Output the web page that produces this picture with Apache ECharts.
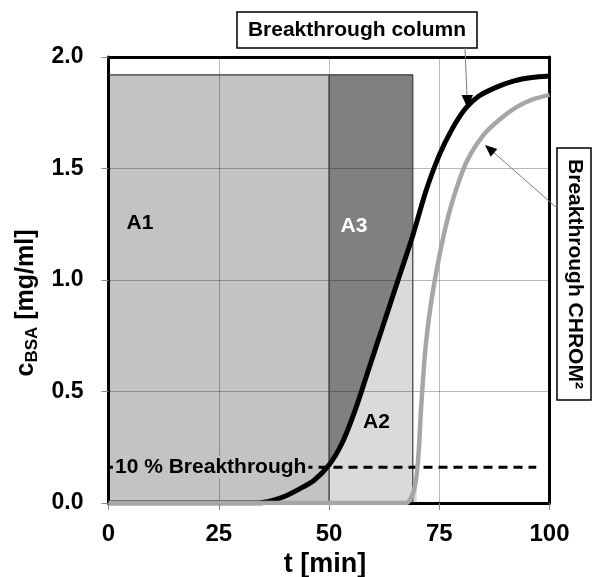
<!DOCTYPE html>
<html><head><meta charset="utf-8">
<script src="https://cdn.jsdelivr.net/npm/echarts@6/dist/echarts.min.js"></script>
<style>html,body{margin:0;padding:0;background:#fff}#c{width:595px;height:577px}</style>
</head><body><div id="c"></div>
<script>
// ---- data ----
const xTicks = [0, 25, 50, 75, 100];
const yTicks = [0.0, 0.5, 1.0, 1.5, 2.0];
const columnBreakthrough = [[0,0],[34,0],[37,0.01],[40,0.03],[43,0.06],[46.5,0.10],[50,0.17],[53,0.27],[56,0.42],[59,0.60],[62,0.78],[65.5,0.99],[69,1.20],[72,1.40],[75,1.56],[78,1.68],[81,1.77],[84,1.825],[88,1.865],[92,1.893],[96,1.908],[100,1.915]];
const chromBreakthrough = [[0,0],[67.5,0],[68.5,0.02],[69.3,0.06],[69.9,0.13],[70.4,0.25],[70.8,0.4],[71.3,0.55],[71.9,0.7],[72.8,0.85],[74,1.0],[76,1.2],[78.1,1.36],[81.2,1.53],[85,1.65],[88.7,1.72],[92.5,1.775],[96.2,1.81],[100,1.83]];
const loadLevel = 1.92;
const rangeA1 = [0, 50];
const rangeA3 = [50, 69];
const tenPercentLevel = 0.16;
const tenPercentRange = [0, 97];
const areaLabels = ['A1', 'A2', 'A3'];

const FONT = 'Liberation Sans, Arial, Helvetica, sans-serif';
const chart = echarts.init(document.getElementById('c'));

const a2Fill = columnBreakthrough.filter(p => p[0] >= rangeA3[0] && p[0] <= rangeA3[1]);
const a2Sliver = chromBreakthrough.filter(p => p[0] >= 67.5 && p[0] <= 69.9);
const SMOOTH = 0.25;

const baseAxis = {
  type: 'value', z: 3,
  axisLine: { show: true, onZero: false, lineStyle: { color: '#000', width: 3 } },
  axisTick: { show: true, length: 7, lineStyle: { color: '#8a8a8a', width: 1 } },
  splitLine: { show: true, lineStyle: { color: 'rgba(0,0,0,0.28)', width: 1 } },
  axisLabel: { fontSize: 23, fontWeight: 'bold', color: '#000', fontFamily: FONT }
};
const frameAxis = {
  type: 'value', z: 3,
  axisLine: { show: true, onZero: false, lineStyle: { color: '#000', width: 3 } },
  axisTick: { show: false }, axisLabel: { show: false }, splitLine: { show: false }
};

function fill(data, color, z) {
  return { type: 'line', data, symbol: 'none', silent: true, z,
    lineStyle: { width: 0 }, areaStyle: { color, opacity: 1 } };
}
function border(data, z) {
  return { type: 'line', data, symbol: 'none', silent: true, z,
    lineStyle: { color: '#3c3c3c', width: 1.2 } };
}

chart.setOption({
  animation: false,
  grid: { left: 108.5, right: 45.5, top: 57, bottom: 74, outerBoundsMode: 'none', containLabel: false },
  xAxis: [
    Object.assign({}, baseAxis, {
      min: xTicks[0], max: xTicks[xTicks.length - 1], interval: xTicks[1] - xTicks[0],
      axisLabel: Object.assign({}, baseAxis.axisLabel, { fontSize: 24, margin: 19 }),
      name: 't [min]', nameLocation: 'middle', nameGap: 44,
      nameTextStyle: { fontSize: 27, fontWeight: 'bold', color: '#000', fontFamily: FONT, padding: [0, 8, 0, 0] }
    }),
    Object.assign({}, frameAxis, { position: 'top', min: 0, max: 100 })
  ],
  yAxis: [
    Object.assign({}, baseAxis, {
      min: yTicks[0], max: yTicks[yTicks.length - 1], interval: yTicks[1] - yTicks[0],
      axisLabel: Object.assign({}, baseAxis.axisLabel, { margin: 25, formatter: v => v.toFixed(1) }),
      name: '{c|c}{s|BSA}{c| [mg/ml]}', nameLocation: 'middle', nameRotate: 90, nameGap: 64,
      nameTextStyle: { color: '#000', fontFamily: FONT, padding: [0, 46, 0, 0],
        rich: { c: { fontSize: 25, fontWeight: 'bold', fontFamily: FONT, color: '#000' },
                s: { fontSize: 17, fontWeight: 'bold', fontFamily: FONT, color: '#000', padding: [13, 0, 0, 0] } } }
    }),
    Object.assign({}, frameAxis, { position: 'right', min: 0, max: 2 })
  ],
  series: [
    fill([[rangeA1[0], loadLevel], [rangeA1[1], loadLevel], [rangeA1[1], 0]], '#c3c3c3', 1),
    fill([[rangeA3[0], 0], [rangeA3[0], loadLevel], [rangeA3[1], loadLevel], [rangeA3[1], 0]], '#808080', 1),
    Object.assign(fill(a2Fill, '#dadada', 1), { smooth: SMOOTH }),
    Object.assign(fill(a2Sliver, '#dadada', 1), { smooth: SMOOTH }),
    border([[rangeA1[0], loadLevel], [rangeA1[1], loadLevel], [rangeA1[1], 0]], 4),
    border([[rangeA3[0], loadLevel], [rangeA3[1], loadLevel], [rangeA3[1], 0]], 4),
    { type: 'line', data: [[tenPercentRange[0], tenPercentLevel], [tenPercentRange[1], tenPercentLevel]],
      symbol: 'none', silent: true, z: 5, clip: false,
      lineStyle: { color: '#000', width: 3, type: [9, 6] } },
    { type: 'line', name: 'Breakthrough column', data: columnBreakthrough, symbol: 'none', smooth: SMOOTH,
      z: 6, lineStyle: { color: '#000', width: 5 } },
    { type: 'line', name: 'Breakthrough CHROM²', data: chromBreakthrough, symbol: 'none', smooth: SMOOTH,
      z: 7, lineStyle: { color: '#a6a6a6', width: 4.5 } }
  ],
  graphic: [
    { type: 'text', z: 100, x: 113, y: 467, style: { text: '10 % Breakthrough', font: 'bold 21px ' + FONT, fill: '#000',
      align: 'left', verticalAlign: 'middle', backgroundColor: '#c3c3c3', padding: [1, 2, 1, 2] } },
    { type: 'text', z: 100, x: 140, y: 223.5, style: { text: areaLabels[0], font: 'bold 21px ' + FONT, fill: '#000', align: 'center', verticalAlign: 'middle' } },
    { type: 'text', z: 100, x: 376.5, y: 422.5, style: { text: areaLabels[1], font: 'bold 21px ' + FONT, fill: '#000', align: 'center', verticalAlign: 'middle' } },
    { type: 'text', z: 100, x: 354, y: 226, style: { text: areaLabels[2], font: 'bold 21px ' + FONT, fill: '#fff', align: 'center', verticalAlign: 'middle' } },
    // box: Breakthrough column
    { type: 'rect', z: 100, shape: { x: 237, y: 12, width: 240, height: 36 }, style: { fill: '#fff', stroke: '#000', lineWidth: 1.5 } },
    { type: 'text', z: 101, x: 357, y: 30.5, style: { text: 'Breakthrough column', font: 'bold 21px ' + FONT, fill: '#000', align: 'center', verticalAlign: 'middle' } },
    { type: 'line', z: 100, shape: { x1: 465, y1: 48, x2: 467, y2: 97 }, style: { stroke: '#7a7a7a', lineWidth: 1 } },
    { type: 'polygon', z: 100, shape: { points: [[461.5, 95], [473, 95], [467.5, 108]] }, style: { fill: '#000' } },
    // box: Breakthrough CHROM²
    { type: 'rect', z: 100, shape: { x: 557, y: 148, width: 34, height: 252 }, style: { fill: '#fff', stroke: '#000', lineWidth: 1.5 } },
    { type: 'text', z: 101, x: 575, y: 274, rotation: -Math.PI / 2,
      style: { text: 'Breakthrough CHROM²', font: 'bold 21px ' + FONT, fill: '#000', align: 'center', verticalAlign: 'middle' } },
    { type: 'line', z: 100, shape: { x1: 557, y1: 208, x2: 492, y2: 151 }, style: { stroke: '#7a7a7a', lineWidth: 1 } },
    { type: 'polygon', z: 100, shape: { points: [[497.3, 149.1], [490.7, 156.7], [485, 145]] }, style: { fill: '#000' } }
  ]
});
</script></body></html>
